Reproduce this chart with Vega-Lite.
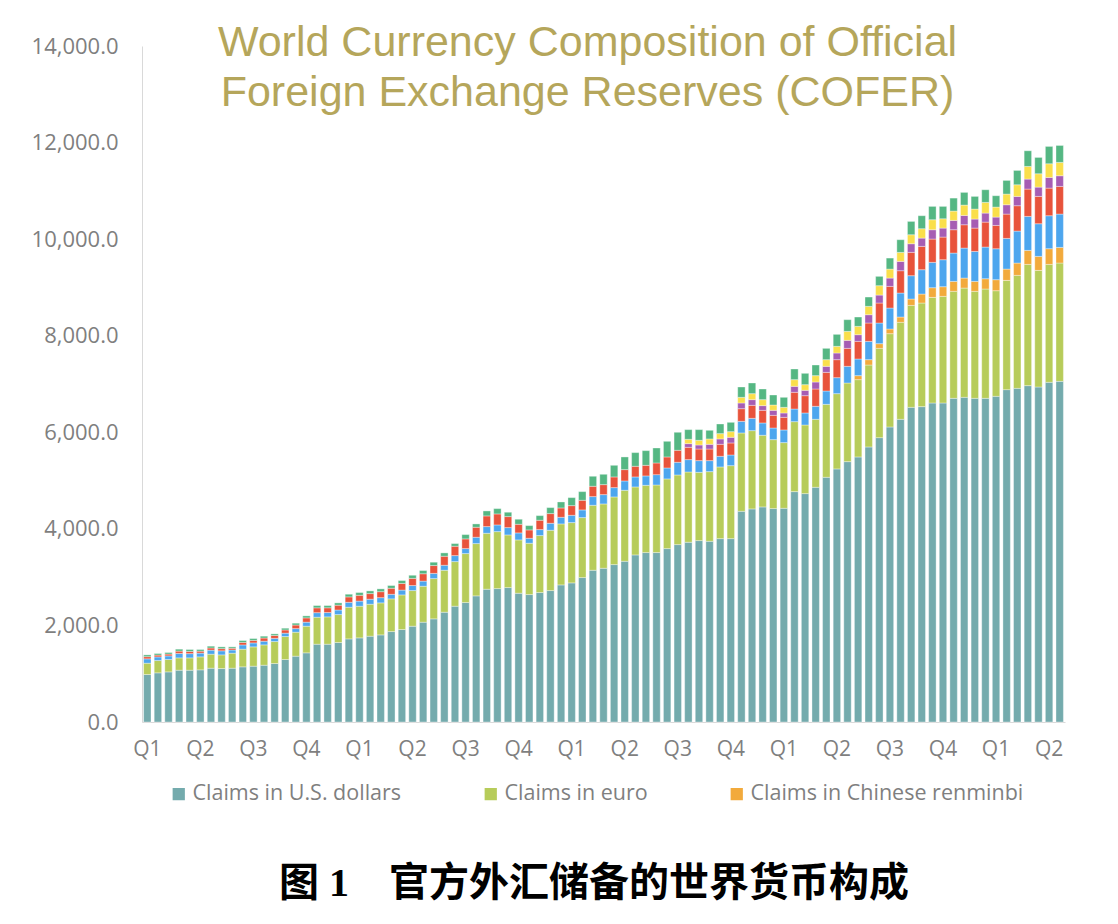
{
  "$schema": "https://vega.github.io/schema/vega-lite/v6.json",
  "background": "white",
  "padding": {"left": 31, "top": 22, "right": 40, "bottom": 10},
  "title": {
    "text": "图 1\u3000官方外汇储备的世界货币构成",
    "orient": "bottom",
    "anchor": "middle",
    "font": "'Liberation Serif', 'Noto Sans CJK SC'",
    "fontSize": 40,
    "fontWeight": "bold",
    "color": "#000000",
    "offset": 59,
    "dx": 46
  },
  "data": {
    "values": [
      {"q": "2000Q1", "a_usd": 983, "b_eur": 235, "d_jpy": 90, "e_gbp": 45, "h_oth": 37},
      {"q": "2000Q2", "a_usd": 1018, "b_eur": 255, "d_jpy": 75, "e_gbp": 38, "h_oth": 32},
      {"q": "2000Q3", "a_usd": 1038, "b_eur": 256, "d_jpy": 75, "e_gbp": 38, "h_oth": 32},
      {"q": "2000Q4", "a_usd": 1073, "b_eur": 255, "d_jpy": 92, "e_gbp": 48, "h_oth": 40},
      {"q": "2001Q1", "a_usd": 1073, "b_eur": 255, "d_jpy": 88, "e_gbp": 46, "h_oth": 39},
      {"q": "2001Q2", "a_usd": 1080, "b_eur": 269, "d_jpy": 78, "e_gbp": 40, "h_oth": 34},
      {"q": "2001Q3", "a_usd": 1114, "b_eur": 290, "d_jpy": 84, "e_gbp": 45, "h_oth": 37},
      {"q": "2001Q4", "a_usd": 1107, "b_eur": 283, "d_jpy": 84, "e_gbp": 45, "h_oth": 37},
      {"q": "2002Q1", "a_usd": 1114, "b_eur": 311, "d_jpy": 66, "e_gbp": 36, "h_oth": 29},
      {"q": "2002Q2", "a_usd": 1142, "b_eur": 366, "d_jpy": 88, "e_gbp": 52, "h_oth": 39},
      {"q": "2002Q3", "a_usd": 1156, "b_eur": 400, "d_jpy": 82, "e_gbp": 52, "h_oth": 38},
      {"q": "2002Q4", "a_usd": 1176, "b_eur": 421, "d_jpy": 76, "e_gbp": 66, "h_oth": 38},
      {"q": "2003Q1", "a_usd": 1211, "b_eur": 455, "d_jpy": 66, "e_gbp": 60, "h_oth": 33},
      {"q": "2003Q2", "a_usd": 1294, "b_eur": 476, "d_jpy": 70, "e_gbp": 66, "h_oth": 36},
      {"q": "2003Q3", "a_usd": 1363, "b_eur": 497, "d_jpy": 74, "e_gbp": 74, "h_oth": 38},
      {"q": "2003Q4", "a_usd": 1432, "b_eur": 552, "d_jpy": 84, "e_gbp": 88, "h_oth": 42},
      {"q": "2004Q1", "a_usd": 1611, "b_eur": 559, "d_jpy": 94, "e_gbp": 100, "h_oth": 47},
      {"q": "2004Q2", "a_usd": 1611, "b_eur": 566, "d_jpy": 90, "e_gbp": 98, "h_oth": 46},
      {"q": "2004Q3", "a_usd": 1646, "b_eur": 579, "d_jpy": 94, "e_gbp": 100, "h_oth": 48},
      {"q": "2004Q4", "a_usd": 1721, "b_eur": 656, "d_jpy": 102, "e_gbp": 112, "h_oth": 55},
      {"q": "2005Q1", "a_usd": 1742, "b_eur": 656, "d_jpy": 106, "e_gbp": 120, "h_oth": 57},
      {"q": "2005Q2", "a_usd": 1777, "b_eur": 662, "d_jpy": 104, "e_gbp": 116, "h_oth": 56},
      {"q": "2005Q3", "a_usd": 1804, "b_eur": 663, "d_jpy": 108, "e_gbp": 124, "h_oth": 58},
      {"q": "2005Q4", "a_usd": 1873, "b_eur": 677, "d_jpy": 95, "e_gbp": 125, "h_oth": 56},
      {"q": "2006Q1", "a_usd": 1915, "b_eur": 717, "d_jpy": 100, "e_gbp": 137, "h_oth": 60},
      {"q": "2006Q2", "a_usd": 1984, "b_eur": 738, "d_jpy": 104, "e_gbp": 148, "h_oth": 65},
      {"q": "2006Q3", "a_usd": 2067, "b_eur": 745, "d_jpy": 106, "e_gbp": 152, "h_oth": 66},
      {"q": "2006Q4", "a_usd": 2136, "b_eur": 834, "d_jpy": 108, "e_gbp": 162, "h_oth": 69},
      {"q": "2007Q1", "a_usd": 2274, "b_eur": 869, "d_jpy": 103, "e_gbp": 187, "h_oth": 69},
      {"q": "2007Q2", "a_usd": 2398, "b_eur": 924, "d_jpy": 124, "e_gbp": 194, "h_oth": 55},
      {"q": "2007Q3", "a_usd": 2474, "b_eur": 1014, "d_jpy": 103, "e_gbp": 201, "h_oth": 89},
      {"q": "2007Q4", "a_usd": 2612, "b_eur": 1083, "d_jpy": 131, "e_gbp": 207, "h_oth": 69},
      {"q": "2008Q1", "a_usd": 2750, "b_eur": 1159, "d_jpy": 138, "e_gbp": 221, "h_oth": 103},
      {"q": "2008Q2", "a_usd": 2763, "b_eur": 1180, "d_jpy": 138, "e_gbp": 228, "h_oth": 110},
      {"q": "2008Q3", "a_usd": 2784, "b_eur": 1090, "d_jpy": 152, "e_gbp": 228, "h_oth": 90},
      {"q": "2008Q4", "a_usd": 2667, "b_eur": 1104, "d_jpy": 145, "e_gbp": 179, "h_oth": 104},
      {"q": "2009Q1", "a_usd": 2639, "b_eur": 1063, "d_jpy": 103, "e_gbp": 173, "h_oth": 89},
      {"q": "2009Q2", "a_usd": 2681, "b_eur": 1180, "d_jpy": 124, "e_gbp": 193, "h_oth": 96},
      {"q": "2009Q3", "a_usd": 2722, "b_eur": 1249, "d_jpy": 145, "e_gbp": 200, "h_oth": 124},
      {"q": "2009Q4", "a_usd": 2839, "b_eur": 1263, "d_jpy": 138, "e_gbp": 193, "h_oth": 124},
      {"q": "2010Q1", "a_usd": 2881, "b_eur": 1249, "d_jpy": 151, "e_gbp": 200, "h_oth": 166},
      {"q": "2010Q2", "a_usd": 2991, "b_eur": 1242, "d_jpy": 159, "e_gbp": 200, "h_oth": 179},
      {"q": "2010Q3", "a_usd": 3143, "b_eur": 1345, "d_jpy": 180, "e_gbp": 214, "h_oth": 207},
      {"q": "2010Q4", "a_usd": 3184, "b_eur": 1332, "d_jpy": 193, "e_gbp": 207, "h_oth": 214},
      {"q": "2011Q1", "a_usd": 3260, "b_eur": 1401, "d_jpy": 193, "e_gbp": 221, "h_oth": 241},
      {"q": "2011Q2", "a_usd": 3329, "b_eur": 1470, "d_jpy": 193, "e_gbp": 235, "h_oth": 262},
      {"q": "2011Q3", "a_usd": 3460, "b_eur": 1408, "d_jpy": 207, "e_gbp": 221, "h_oth": 283},
      {"q": "2011Q4", "a_usd": 3509, "b_eur": 1393, "d_jpy": 194, "e_gbp": 220, "h_oth": 304},
      {"q": "2012Q1", "a_usd": 3509, "b_eur": 1400, "d_jpy": 214, "e_gbp": 242, "h_oth": 310},
      {"q": "2012Q2", "a_usd": 3591, "b_eur": 1443, "d_jpy": 227, "e_gbp": 228, "h_oth": 324},
      {"q": "2012Q3", "a_usd": 3674, "b_eur": 1442, "d_jpy": 263, "e_gbp": 248, "h_oth": 373},
      {"q": "2012Q4", "a_usd": 3723, "b_eur": 1455, "d_jpy": 256, "e_gbp": 255, "f_aud": 76, "g_cad": 90, "h_oth": 200},
      {"q": "2013Q1", "a_usd": 3757, "b_eur": 1414, "d_jpy": 242, "e_gbp": 241, "f_aud": 83, "g_cad": 97, "h_oth": 221},
      {"q": "2013Q2", "a_usd": 3743, "b_eur": 1442, "d_jpy": 228, "e_gbp": 241, "f_aud": 97, "g_cad": 111, "h_oth": 179},
      {"q": "2013Q3", "a_usd": 3798, "b_eur": 1484, "d_jpy": 221, "e_gbp": 248, "f_aud": 111, "g_cad": 110, "h_oth": 200},
      {"q": "2013Q4", "a_usd": 3798, "b_eur": 1511, "d_jpy": 221, "e_gbp": 249, "f_aud": 117, "g_cad": 117, "h_oth": 193},
      {"q": "2014Q1", "a_usd": 4364, "b_eur": 1622, "d_jpy": 241, "e_gbp": 262, "f_aud": 118, "g_cad": 117, "h_oth": 214},
      {"q": "2014Q2", "a_usd": 4413, "b_eur": 1621, "d_jpy": 255, "e_gbp": 269, "f_aud": 118, "g_cad": 124, "h_oth": 221},
      {"q": "2014Q3", "a_usd": 4454, "b_eur": 1484, "d_jpy": 255, "e_gbp": 262, "f_aud": 97, "g_cad": 124, "h_oth": 221},
      {"q": "2014Q4", "a_usd": 4420, "b_eur": 1428, "d_jpy": 241, "e_gbp": 262, "f_aud": 104, "g_cad": 110, "h_oth": 207},
      {"q": "2015Q1", "a_usd": 4426, "b_eur": 1360, "d_jpy": 262, "e_gbp": 262, "f_aud": 90, "g_cad": 117, "h_oth": 207},
      {"q": "2015Q2", "a_usd": 4771, "b_eur": 1449, "d_jpy": 262, "e_gbp": 346, "f_aud": 124, "g_cad": 138, "h_oth": 221},
      {"q": "2015Q3", "a_usd": 4730, "b_eur": 1421, "d_jpy": 249, "e_gbp": 358, "f_aud": 111, "g_cad": 117, "h_oth": 235},
      {"q": "2015Q4", "a_usd": 4861, "b_eur": 1408, "d_jpy": 269, "e_gbp": 359, "f_aud": 144, "g_cad": 132, "h_oth": 220},
      {"q": "2016Q1", "a_usd": 5068, "b_eur": 1511, "d_jpy": 276, "e_gbp": 386, "f_aud": 125, "g_cad": 138, "h_oth": 234},
      {"q": "2016Q2", "a_usd": 5241, "b_eur": 1559, "d_jpy": 331, "e_gbp": 373, "f_aud": 138, "g_cad": 138, "h_oth": 248},
      {"q": "2016Q3", "a_usd": 5392, "b_eur": 1629, "d_jpy": 345, "e_gbp": 372, "f_aud": 166, "g_cad": 186, "h_oth": 242},
      {"q": "2016Q4", "a_usd": 5489, "b_eur": 1601, "c_rmb": 83, "d_jpy": 345, "e_gbp": 365, "f_aud": 138, "g_cad": 173, "h_oth": 193},
      {"q": "2017Q1", "a_usd": 5696, "b_eur": 1697, "c_rmb": 111, "d_jpy": 379, "e_gbp": 380, "f_aud": 172, "g_cad": 173, "h_oth": 193},
      {"q": "2017Q2", "a_usd": 5889, "b_eur": 1849, "c_rmb": 97, "d_jpy": 428, "e_gbp": 414, "f_aud": 165, "g_cad": 194, "h_oth": 193},
      {"q": "2017Q3", "a_usd": 6110, "b_eur": 1932, "c_rmb": 97, "d_jpy": 434, "e_gbp": 449, "f_aud": 172, "g_cad": 186, "h_oth": 228},
      {"q": "2017Q4", "a_usd": 6269, "b_eur": 2008, "c_rmb": 110, "d_jpy": 497, "e_gbp": 462, "f_aud": 193, "g_cad": 186, "h_oth": 263},
      {"q": "2018Q1", "a_usd": 6517, "b_eur": 2111, "c_rmb": 132, "d_jpy": 483, "e_gbp": 483, "f_aud": 179, "g_cad": 186, "h_oth": 276},
      {"q": "2018Q2", "a_usd": 6531, "b_eur": 2146, "c_rmb": 186, "d_jpy": 504, "e_gbp": 483, "f_aud": 172, "g_cad": 194, "h_oth": 269},
      {"q": "2018Q3", "a_usd": 6607, "b_eur": 2187, "c_rmb": 200, "d_jpy": 525, "e_gbp": 483, "f_aud": 193, "g_cad": 207, "h_oth": 276},
      {"q": "2018Q4", "a_usd": 6607, "b_eur": 2208, "c_rmb": 200, "d_jpy": 559, "e_gbp": 469, "f_aud": 186, "g_cad": 193, "h_oth": 256},
      {"q": "2019Q1", "a_usd": 6703, "b_eur": 2216, "c_rmb": 206, "d_jpy": 587, "e_gbp": 483, "f_aud": 193, "g_cad": 193, "h_oth": 269},
      {"q": "2019Q2", "a_usd": 6724, "b_eur": 2263, "c_rmb": 207, "d_jpy": 621, "e_gbp": 483, "f_aud": 193, "g_cad": 214, "h_oth": 263},
      {"q": "2019Q3", "a_usd": 6703, "b_eur": 2216, "c_rmb": 206, "d_jpy": 621, "e_gbp": 483, "f_aud": 187, "g_cad": 207, "h_oth": 262},
      {"q": "2019Q4", "a_usd": 6703, "b_eur": 2264, "c_rmb": 213, "d_jpy": 656, "e_gbp": 517, "f_aud": 187, "g_cad": 221, "h_oth": 262},
      {"q": "2020Q1", "a_usd": 6745, "b_eur": 2187, "c_rmb": 228, "d_jpy": 641, "e_gbp": 483, "f_aud": 173, "g_cad": 207, "h_oth": 235},
      {"q": "2020Q2", "a_usd": 6883, "b_eur": 2263, "c_rmb": 234, "d_jpy": 635, "e_gbp": 504, "f_aud": 193, "g_cad": 221, "h_oth": 283},
      {"q": "2020Q3", "a_usd": 6910, "b_eur": 2340, "c_rmb": 255, "d_jpy": 662, "e_gbp": 525, "f_aud": 193, "g_cad": 241, "h_oth": 297},
      {"q": "2020Q4", "a_usd": 6966, "b_eur": 2511, "c_rmb": 290, "d_jpy": 704, "e_gbp": 566, "f_aud": 207, "g_cad": 262, "h_oth": 324},
      {"q": "2021Q1", "a_usd": 6938, "b_eur": 2415, "c_rmb": 290, "d_jpy": 676, "e_gbp": 566, "f_aud": 193, "g_cad": 276, "h_oth": 338},
      {"q": "2021Q2", "a_usd": 7035, "b_eur": 2442, "c_rmb": 325, "d_jpy": 683, "e_gbp": 572, "f_aud": 221, "g_cad": 283, "h_oth": 359},
      {"q": "2021Q3", "a_usd": 7055, "b_eur": 2450, "c_rmb": 324, "d_jpy": 690, "e_gbp": 573, "f_aud": 221, "g_cad": 276, "h_oth": 351}
    ]
  },
  "vconcat": [
    {
      "width": 923,
      "height": 676,
      "title": {
        "text": ["World Currency Composition of Official", "Foreign Exchange Reserves (COFER)"],
        "frame": "group",
        "anchor": "middle",
        "font": "Liberation Sans",
        "fontSize": 43,
        "fontWeight": "normal",
        "color": "#b5a65b",
        "lineHeight": 50,
        "offset": -80,
        "dx": -16
      },
      "transform": [
        {"fold": ["a_usd", "b_eur", "c_rmb", "d_jpy", "e_gbp", "f_aud", "g_cad", "h_oth"], "as": ["k", "v"]},
        {"filter": "isValid(datum.v)"}
      ],
      "mark": {"type": "bar", "stroke": "#ffffff", "strokeWidth": 0.5, "strokeOpacity": 0.7},
      "encoding": {
        "x": {
          "field": "q",
          "type": "ordinal",
          "scale": {"paddingInner": 0.3, "paddingOuter": 0.15},
          "axis": {
            "title": null,
            "values": ["2000Q1", "2001Q2", "2002Q3", "2003Q4", "2005Q1", "2006Q2", "2007Q3", "2008Q4", "2010Q1", "2011Q2", "2012Q3", "2013Q4", "2015Q1", "2016Q2", "2017Q3", "2018Q4", "2020Q1", "2021Q2"],
            "labelExpr": "substring(datum.value, 4)",
            "labelAngle": 0,
            "labelFont": "Open Sans",
            "labelFontSize": 21,
            "labelColor": "#7f7f7f",
            "labelPadding": 16,
            "ticks": false,
            "domainColor": "#d9d9d9",
            "grid": false
          }
        },
        "y": {
          "field": "v",
          "type": "quantitative",
          "stack": "zero",
          "scale": {"domain": [0, 14000], "nice": false},
          "axis": {
            "title": null,
            "values": [0, 2000, 4000, 6000, 8000, 10000, 12000, 14000],
            "format": ",.1f",
            "labelFont": "Open Sans",
            "labelFontSize": 22,
            "labelColor": "#7f7f7f",
            "labelPadding": 24,
            "ticks": false,
            "domainColor": "#d9d9d9",
            "grid": false
          }
        },
        "color": {
          "field": "k",
          "type": "nominal",
          "scale": {
            "domain": ["a_usd", "b_eur", "c_rmb", "d_jpy", "e_gbp", "f_aud", "g_cad", "h_oth"],
            "range": ["#74abad", "#b7cc5a", "#f2aa3c", "#4da6ee", "#e8533b", "#a65db3", "#fadf4b", "#55b783"]
          },
          "legend": {
            "values": ["a_usd", "b_eur", "c_rmb"],
            "labelExpr": "datum.label == 'a_usd' ? 'Claims in U.S. dollars' : datum.label == 'b_eur' ? 'Claims in euro' : 'Claims in Chinese renminbi'",
            "title": null,
            "orient": "none",
            "legendX": 26,
            "legendY": 737,
            "direction": "horizontal",
            "columns": 3,
            "columnPadding": 78,
            "symbolType": "square",
            "symbolSize": 150,
            "symbolStrokeWidth": 0,
            "labelFont": "Open Sans",
            "labelFontSize": 21.5,
            "labelColor": "#7f7f7f",
            "labelLimit": 400,
            "labelOffset": 3
          }
        },
        "order": {"field": "k", "type": "ordinal", "sort": "ascending"}
      }
    }
  ],
  "config": {
    "view": {"stroke": null}
  }
}
